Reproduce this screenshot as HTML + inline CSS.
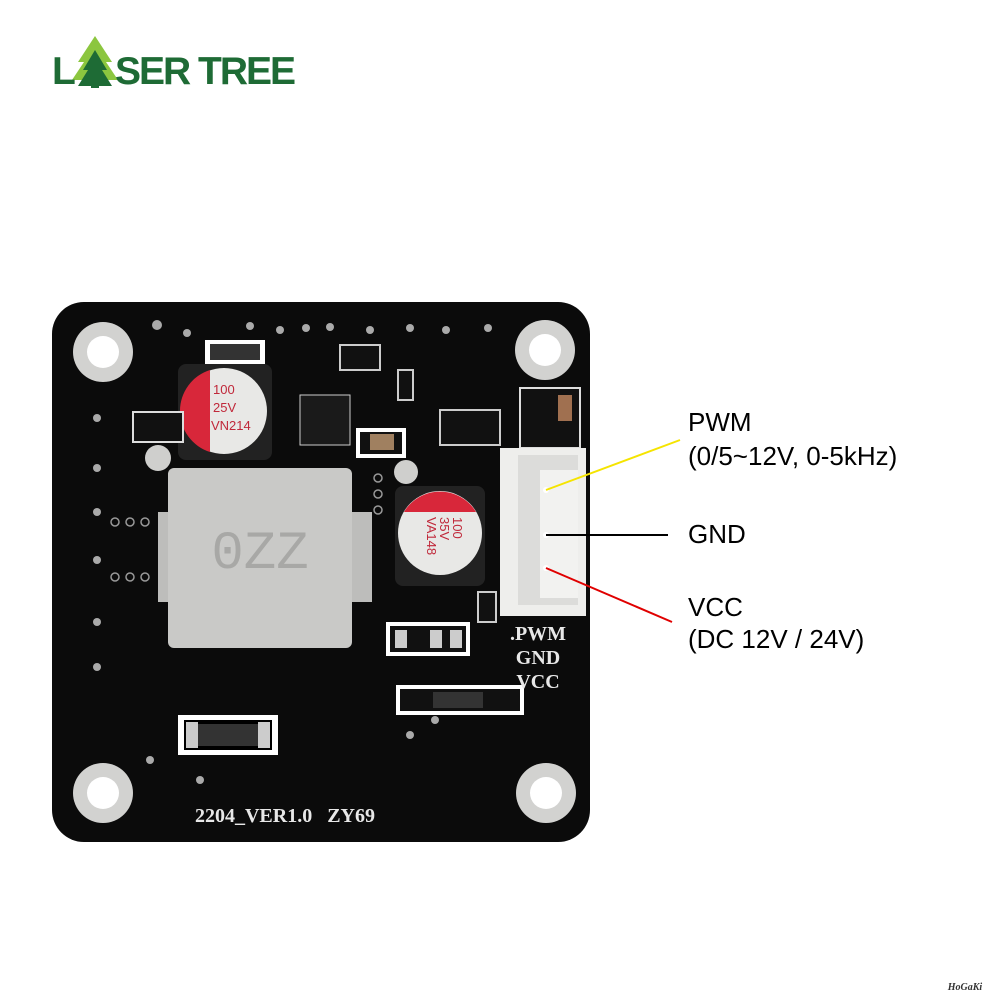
<!DOCTYPE html>
<html><head><meta charset="utf-8"><style>
body{margin:0;background:#fff;width:1000px;height:1000px;overflow:hidden}
svg{display:block}
</style></head><body>
<svg width="1000" height="1000" viewBox="0 0 1000 1000" xmlns="http://www.w3.org/2000/svg">
<!-- logo -->
<polygon points="95,36 78,62 84,62 72,80 118,80 106,62 112,62" fill="#8cc63f"/>
<polygon points="95,50 83,70 88,70 78,86 112,86 102,70 107,70" fill="#1e6b35"/>
<rect x="91" y="80" width="8" height="8" fill="#1e6b35"/>
<text x="52" y="84" font-family="Liberation Sans, sans-serif" font-weight="bold" font-size="39" fill="#1e6b35">L</text>
<text x="115" y="84" font-family="Liberation Sans, sans-serif" font-weight="bold" font-size="39" fill="#1e6b35" letter-spacing="-2">SER TREE</text>
<!-- board -->
<rect x="52" y="302" width="538" height="540" rx="32" fill="#0b0b0b"/>
<g fill="#d2d2d0"><circle cx="103" cy="352" r="30"/><circle cx="545" cy="350" r="30"/><circle cx="103" cy="793" r="30"/><circle cx="546" cy="793" r="30"/></g>
<g fill="#fff"><circle cx="103" cy="352" r="16"/><circle cx="545" cy="350" r="16"/><circle cx="103" cy="793" r="16"/><circle cx="546" cy="793" r="16"/></g>
<!-- vias -->
<g fill="#aaa"><circle cx="157" cy="325" r="5"/><circle cx="187" cy="333" r="4"/><circle cx="250" cy="326" r="4"/><circle cx="280" cy="330" r="4"/><circle cx="306" cy="328" r="4"/><circle cx="330" cy="327" r="4"/><circle cx="370" cy="330" r="4"/><circle cx="410" cy="328" r="4"/><circle cx="446" cy="330" r="4"/><circle cx="488" cy="328" r="4"/><circle cx="97" cy="418" r="4"/><circle cx="97" cy="468" r="4"/><circle cx="97" cy="512" r="4"/><circle cx="97" cy="560" r="4"/><circle cx="97" cy="622" r="4"/><circle cx="97" cy="667" r="4"/><circle cx="200" cy="780" r="4"/><circle cx="410" cy="735" r="4"/><circle cx="435" cy="720" r="4"/><circle cx="150" cy="760" r="4"/></g>
<g fill="none" stroke="#999" stroke-width="1.5"><circle cx="115" cy="522" r="4"/><circle cx="130" cy="522" r="4"/><circle cx="145" cy="522" r="4"/><circle cx="115" cy="577" r="4"/><circle cx="130" cy="577" r="4"/><circle cx="145" cy="577" r="4"/><circle cx="378" cy="478" r="4"/><circle cx="378" cy="494" r="4"/><circle cx="378" cy="510" r="4"/></g>
<circle cx="158" cy="458" r="13" fill="#cfcfcd"/>
<circle cx="406" cy="472" r="12" fill="#cfcfcd"/>
<!-- inductor -->
<rect x="158" y="512" width="214" height="90" fill="#bdbdbb"/>
<rect x="168" y="468" width="184" height="180" rx="6" fill="#c9c9c7"/>
<text x="260" y="568" font-family="Liberation Mono, monospace" font-size="54" fill="#a8a8a6" text-anchor="middle">0ZZ</text>
<!-- capacitor 1 -->
<rect x="178" y="364" width="94" height="96" rx="8" fill="#222"/>
<circle cx="224" cy="411" r="43" fill="#e8e8e6"/>
<path d="M210,370 A43,43 0 0 0 210,452 Z" fill="#d8273a"/>
<text x="213" y="394" font-family="Liberation Sans, sans-serif" font-size="13" fill="#c0283a">100</text>
<text x="213" y="412" font-family="Liberation Sans, sans-serif" font-size="13" fill="#c0283a">25V</text>
<text x="211" y="430" font-family="Liberation Sans, sans-serif" font-size="13" fill="#c0283a">VN214</text>
<!-- capacitor 2 -->
<rect x="395" y="486" width="90" height="100" rx="8" fill="#222"/>
<circle cx="440" cy="533" r="42" fill="#e8e8e6"/>
<path d="M404,512 A42,42 0 0 1 476,512 Z" fill="#d8273a"/>
<g font-family="Liberation Sans, sans-serif" font-size="13" fill="#c0283a">
<text transform="translate(453,517) rotate(90)">100</text>
<text transform="translate(440,517) rotate(90)">35V</text>
<text transform="translate(427,517) rotate(90)">VA148</text></g>
<!-- small parts -->
<rect x="205" y="340" width="60" height="24" fill="#fff"/><rect x="210" y="344" width="50" height="16" fill="#333"/>
<rect x="178" y="715" width="100" height="40" fill="#fff"/><rect x="184" y="720" width="88" height="30" fill="#000"/><rect x="198" y="724" width="60" height="22" fill="#333"/><rect x="186" y="722" width="12" height="26" fill="#ccc"/><rect x="258" y="722" width="12" height="26" fill="#ccc"/>
<rect x="396" y="685" width="128" height="30" fill="#fff"/><rect x="400" y="689" width="120" height="22" fill="#111"/><rect x="433" y="692" width="50" height="16" fill="#333"/>
<rect x="356" y="428" width="50" height="30" fill="#fff"/><rect x="360" y="432" width="42" height="22" fill="#111"/><rect x="370" y="434" width="24" height="16" fill="#a08060"/>
<rect x="386" y="622" width="84" height="34" fill="#fff"/><rect x="390" y="626" width="76" height="26" fill="#111"/><rect x="395" y="630" width="12" height="18" fill="#ccc"/><rect x="430" y="630" width="12" height="18" fill="#ccc"/><rect x="450" y="630" width="12" height="18" fill="#ccc"/>
<rect x="133" y="412" width="50" height="30" fill="#111" stroke="#ddd" stroke-width="2"/>
<rect x="300" y="395" width="50" height="50" fill="#1a1a1a" stroke="#ccc" stroke-width="1"/>
<rect x="520" y="388" width="60" height="60" fill="#111" stroke="#ddd" stroke-width="2"/><rect x="558" y="395" width="14" height="26" fill="#a07050"/>
<rect x="340" y="345" width="40" height="25" fill="#111" stroke="#ccc" stroke-width="2"/>
<rect x="440" y="410" width="60" height="35" fill="#111" stroke="#ccc" stroke-width="2"/>
<rect x="398" y="370" width="15" height="30" fill="#111" stroke="#ccc" stroke-width="2"/>
<rect x="478" y="592" width="18" height="30" fill="#111" stroke="#ccc" stroke-width="2"/>
<!-- connector -->
<rect x="500" y="448" width="86" height="168" fill="#eeeeec"/>
<rect x="518" y="455" width="60" height="150" fill="#dcdcda"/>
<rect x="540" y="470" width="38" height="128" fill="#f2f2f0"/>
<g fill="#fff"><circle cx="546" cy="490" r="3"/><circle cx="546" cy="535" r="3"/><circle cx="546" cy="568" r="3"/></g>
<g font-family="Liberation Serif, serif" font-weight="bold" font-size="20" fill="#e8e8e8" text-anchor="middle">
<text x="538" y="640">.PWM</text><text x="538" y="664">GND</text><text x="538" y="688">VCC</text></g>
<text x="285" y="822" font-family="Liberation Serif, serif" font-weight="bold" font-size="20" fill="#e8e8e8" text-anchor="middle" xml:space="preserve">2204_VER1.0   ZY69</text>
<!-- leader lines -->
<line x1="546" y1="490" x2="680" y2="440" stroke="#f5e400" stroke-width="2"/>
<line x1="546" y1="535" x2="668" y2="535" stroke="#000" stroke-width="2"/>
<line x1="546" y1="568" x2="672" y2="622" stroke="#e00000" stroke-width="2"/>
<g font-family="Liberation Sans, sans-serif" font-size="26" fill="#000">
<text x="688" y="431">PWM</text><text x="688" y="465">(0/5~12V, 0-5kHz)</text>
<text x="688" y="543">GND</text>
<text x="688" y="616">VCC</text><text x="688" y="648">(DC 12V / 24V)</text></g>
<text x="965" y="990" font-family="Liberation Serif, serif" font-style="italic" font-weight="bold" font-size="10" fill="#333" text-anchor="middle">HoGaKi</text>
</svg>
</body></html>
